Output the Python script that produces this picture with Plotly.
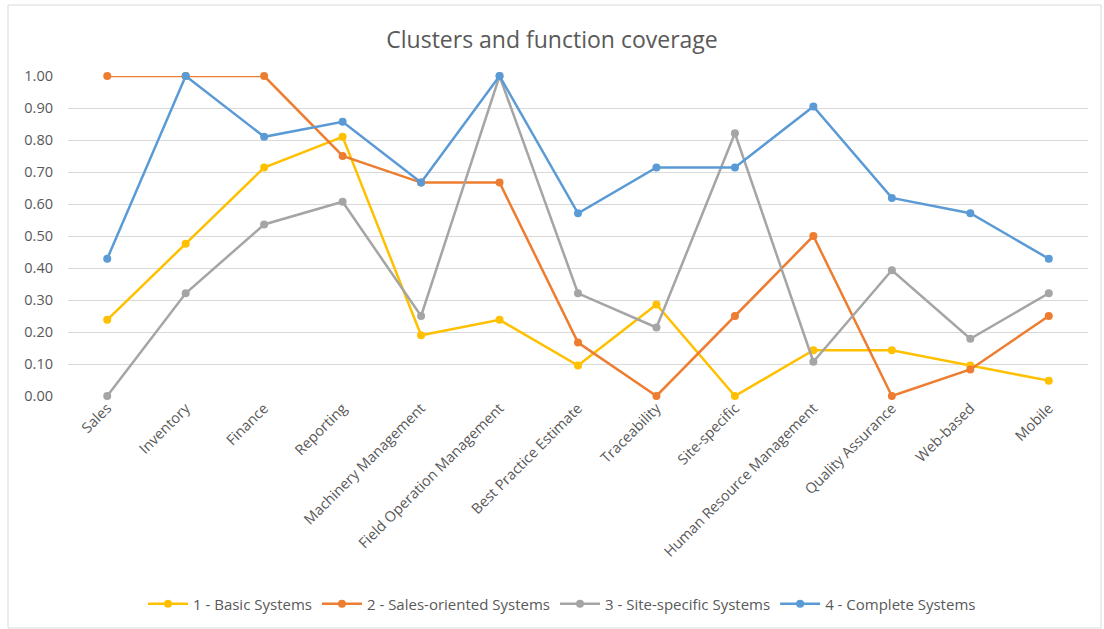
import plotly.graph_objects as go

categories = ["Sales", "Inventory", "Finance", "Reporting", "Machinery Management",
              "Field Operation Management", "Best Practice Estimate", "Traceability",
              "Site-specific", "Human Resource Management", "Quality Assurance",
              "Web-based", "Mobile"]

basic = [0.238, 0.476, 0.714, 0.810, 0.190, 0.238, 0.095, 0.286, 0.0, 0.143, 0.143, 0.095, 0.048]
sales_oriented = [1.0, 1.0, 1.0, 0.750, 0.667, 0.667, 0.167, 0.0, 0.250, 0.500, 0.0, 0.083, 0.250]
site_specific = [0.0, 0.321, 0.536, 0.607, 0.250, 1.0, 0.321, 0.214, 0.821, 0.107, 0.393, 0.179, 0.321]
complete = [0.429, 1.0, 0.810, 0.857, 0.667, 1.0, 0.571, 0.714, 0.714, 0.905, 0.619, 0.571, 0.429]

series_names = ["1 - Basic Systems", "2 - Sales-oriented Systems",
                "3 - Site-specific Systems", "4 - Complete Systems"]
series_values = [basic, sales_oriented, site_specific, complete]
colors = ["#FFC000", "#ED7D31", "#A5A5A5", "#5B9BD5"]

y_ticks = [0.0, 0.1, 0.2, 0.3, 0.4, 0.5, 0.6, 0.7, 0.8, 0.9, 1.0]

fig = go.Figure()
for name, vals, col in zip(series_names, series_values, colors):
    fig.add_trace(go.Scatter(
        x=categories, y=vals, name=name, mode="lines+markers",
        line=dict(color=col, width=2.5),
        marker=dict(color=col, size=8, symbol="circle"),
        cliponaxis=False,
    ))

W, H = 1104, 629
L, R, T, B = 68, 16, 76, 233
pw, ph = W - L - R, H - T - B

def px_x(p):
    return (p - L) / pw

def px_y(p):
    return (H - B - p) / ph

font_color = "#595959"
fig.update_layout(
    width=W, height=H,
    margin=dict(l=L, r=R, t=T, b=B, autoexpand=False),
    paper_bgcolor="white", plot_bgcolor="white",
    font=dict(family="Open Sans, Liberation Sans, sans-serif", color=font_color, size=14),
    title=dict(text="Clusters and function coverage", x=0.5, xanchor="center",
               y=1 - 40 / H, yanchor="middle", yref="container",
               font=dict(size=23, color=font_color)),
    showlegend=True,
    legend=dict(orientation="h", x=px_x(562), xanchor="center", y=px_y(604), yanchor="middle",
                font=dict(size=15, color=font_color), itemwidth=40,
                bgcolor="rgba(0,0,0,0)"),
    xaxis=dict(type="category", range=[-0.5, len(categories) - 0.5], tickangle=-45,
               showgrid=False, showline=False,
               ticks="", tickfont=dict(size=14.5, color=font_color), fixedrange=True),
    yaxis=dict(range=[0, 1], tickvals=y_ticks, tickformat=".2f", showgrid=True,
               gridcolor="#D9D9D9", gridwidth=1, zeroline=False, showline=False,
               ticks="", ticklabelstandoff=14, tickfont=dict(size=14.5, color=font_color)),
    shapes=[dict(type="rect", xref="paper", yref="paper",
                 x0=px_x(8), x1=px_x(1101), y0=px_y(628), y1=px_y(5),
                 line=dict(color="#D9D9D9", width=1), layer="below")],
)

fig.write_html("out.html")
